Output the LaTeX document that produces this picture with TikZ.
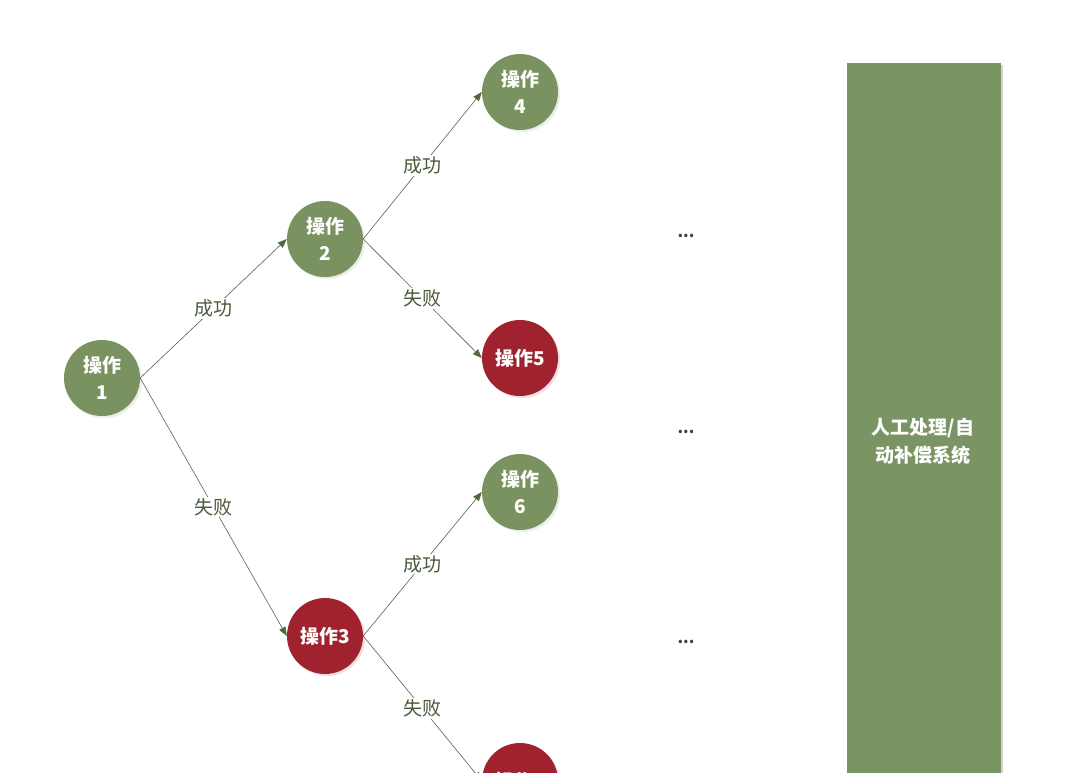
\documentclass[tikz,border=0pt]{standalone}
\usepackage{fontspec}
\setmainfont{Noto Sans CJK SC}
\usetikzlibrary{arrows.meta,shadows}
\definecolor{opgreen}{HTML}{7A9160}
\definecolor{opred}{HTML}{A0222E}
\definecolor{boxgreen}{HTML}{7A9563}
\definecolor{lbl}{HTML}{4A5A3A}
\definecolor{edgec}{HTML}{5A5F55}
\definecolor{tipc}{HTML}{4E6A3E}
\tikzset{
  opnode/.style={circle, minimum size=76pt, inner sep=0pt, text=white, font=\fontsize{19}{27}\selectfont\bfseries, align=center, drop shadow={shadow xshift=2pt, shadow yshift=-2pt, opacity=0.25, fill=#1!60}},
  okop/.style={opnode=opgreen, fill=opgreen},
  badop/.style={opnode=opred, fill=opred},
  link/.style={draw=edgec, line width=0.6pt, -{Triangle[length=9pt,width=7pt,fill=tipc,color=tipc]}},
  elabel/.style={fill=white, inner sep=1.5pt, text=lbl, font=\fontsize{19}{22}\selectfont},
  dots/.style={text=black!75, font=\fontsize{16}{18}\selectfont\bfseries}
}
\begin{document}
\begin{tikzpicture}[x=1pt,y=-1pt]
\useasboundingbox (0,0) rectangle (1084,772);
\clip (0,0) rectangle (1084,772);
\fill[black!18] (849,65) rectangle (1003,800);
\node[fill=boxgreen, minimum width=154pt, minimum height=760pt, anchor=north west, inner sep=0pt] (box) at (847,63) {};
\node[text=white, font=\fontsize{19}{28}\selectfont\bfseries, align=center] (boxtext) at (923,441) {人工处理/自\\动补偿系统};

\node[okop] (o1) at (102,378) {操作\\1};
\node[okop] (o2) at (325,239) {操作\\2};
\node[okop] (o4) at (520,92) {操作\\4};
\node[badop] (o5) at (520,358) {操作5};
\node[okop] (o6) at (520,492) {操作\\6};
\node[badop] (o3) at (325,636) {操作3};
\node[badop] (o7) at (520,781) {操作7};

\draw[link] (o1.east) -- node[elabel] {成功} (o2.west);
\draw[link] (o1.east) -- node[elabel,pos=0.5] {失败} (o3.west);
\draw[link] (o2.east) -- node[elabel] {成功} (o4.west);
\draw[link] (o2.east) -- node[elabel] {失败} (o5.west);
\draw[link] (o3.east) -- node[elabel] {成功} (o6.west);
\draw[link] (o3.east) -- node[elabel] {失败} (o7.west);

\node[dots] (d1) at (686,236) {...};
\node[dots] (d2) at (686,432) {...};
\node[dots] (d3) at (686,642) {...};
\end{tikzpicture}
\end{document}
